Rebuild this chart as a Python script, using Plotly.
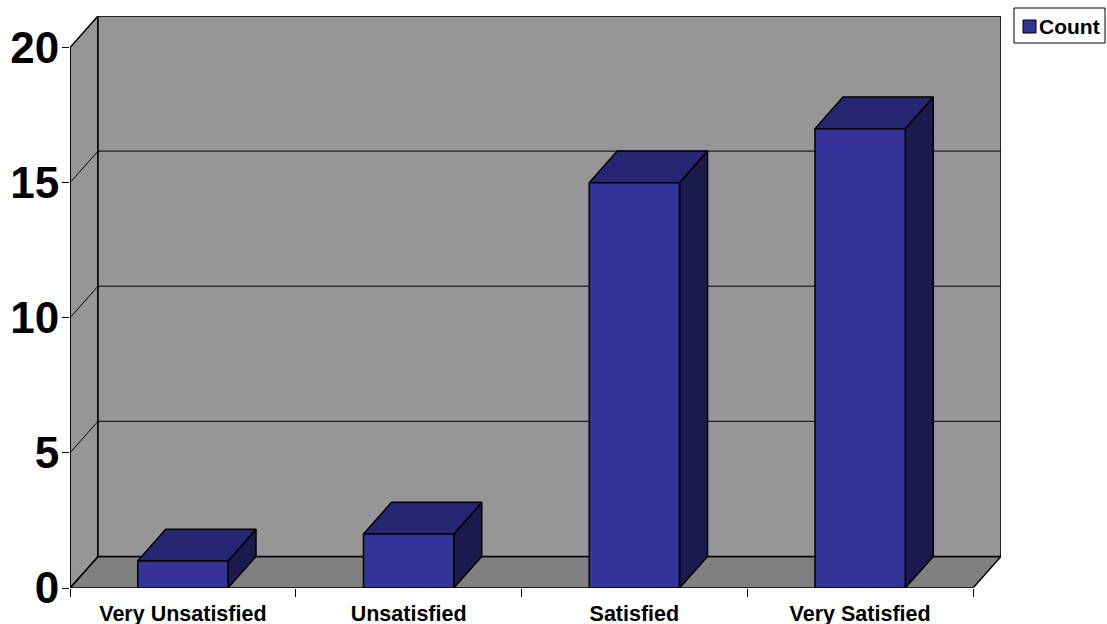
import plotly.graph_objects as go

# Survey results
categories = ["Very Unsatisfied", "Unsatisfied", "Satisfied", "Very Satisfied"]
counts = [1, 2, 15, 17]
y_ticks = [0, 5, 10, 15, 20]
series_name = "Count"

# 3D look: depth offset of the back plane, in axis units
DEPTH_X = 0.124
DEPTH_Y = 1.17
HALF_W = 0.2
Y_MAX = 20

FRONT = "#333399"
TOP = "#262673"
SIDE = "#1a1a4d"
WALL = "#969696"
FLOOR = "#808080"
FONT = "Liberation Sans, Arial, sans-serif"

n = len(categories)
x0, x1 = -0.5, n - 0.5

fig = go.Figure()


def poly(xs, ys, fill, width=1.5):
    fig.add_trace(go.Scatter(
        x=list(xs) + [xs[0]], y=list(ys) + [ys[0]],
        mode="lines", fill="toself", fillcolor=fill,
        line=dict(color="black", width=width),
        hoverinfo="skip", showlegend=False,
    ))


def seg(xs, ys, width=1):
    fig.add_trace(go.Scatter(
        x=xs, y=ys, mode="lines", line=dict(color="black", width=width),
        hoverinfo="skip", showlegend=False,
    ))


# floor, side wall, back wall
poly([x0, x1, x1 + DEPTH_X, x0 + DEPTH_X], [0, 0, DEPTH_Y, DEPTH_Y], FLOOR)
poly([x0, x0, x0 + DEPTH_X, x0 + DEPTH_X], [0, Y_MAX, Y_MAX + DEPTH_Y, DEPTH_Y], WALL)
poly([x0 + DEPTH_X, x1 + DEPTH_X, x1 + DEPTH_X, x0 + DEPTH_X],
     [DEPTH_Y, DEPTH_Y, Y_MAX + DEPTH_Y, Y_MAX + DEPTH_Y], WALL)

# gridlines on the walls
for v in y_ticks[1:-1]:
    seg([x0, x0 + DEPTH_X, x1 + DEPTH_X], [v, v + DEPTH_Y, v + DEPTH_Y])

# bars: side, top, front faces
for i, v in enumerate(counts):
    l, r = i - HALF_W, i + HALF_W
    poly([r, r + DEPTH_X, r + DEPTH_X, r], [0, DEPTH_Y, v + DEPTH_Y, v], SIDE)
    poly([l, r, r + DEPTH_X, l + DEPTH_X], [v, v, v + DEPTH_Y, v + DEPTH_Y], TOP)
    poly([l, r, r, l], [0, 0, v, v], FRONT)

# front value axis line
seg([x0, x0], [0, Y_MAX], width=1.5)

W, H = 1107, 624
ML, MR, MT, MB = 70, 106, 16, 36
pw, ph = W - ML - MR, H - MT - MB


def px(x):
    return (x - ML) / pw


def py(y):
    return (H - MB - y) / ph


# legend box
fig.add_shape(type="rect", xref="paper", yref="paper",
              x0=px(1014), x1=px(1105), y0=py(43), y1=py(8),
              line=dict(color="black", width=1), fillcolor="white")
fig.add_shape(type="rect", xref="paper", yref="paper",
              x0=px(1023), x1=px(1036), y0=py(33), y1=py(20),
              line=dict(color="black", width=1), fillcolor=FRONT)
fig.add_annotation(text=series_name, xref="paper", yref="paper",
                   x=px(1037), y=py(26), xanchor="left", yanchor="middle",
                   showarrow=False,
                   font=dict(family=FONT, size=21, color="black", weight="bold"))

fig.update_layout(
    width=W, height=H,
    margin=dict(l=ML, r=MR, t=MT, b=MB),
    paper_bgcolor="white", plot_bgcolor="white",
    hovermode=False, showlegend=False,
    xaxis=dict(
        range=[x0, x1 + DEPTH_X], showgrid=False, zeroline=False, showline=False,
        automargin=False,
        tickmode="array", tickvals=list(range(n)), ticktext=categories,
        ticks="", ticklabelstandoff=10,
        tickfont=dict(family=FONT, size=21.5, color="black", weight="bold"),
        minor=dict(tickmode="array", tickvals=[i - 0.5 for i in range(n + 1)],
                   ticks="outside", ticklen=8, tickcolor="black", tickwidth=1),
    ),
    yaxis=dict(
        range=[0, Y_MAX + DEPTH_Y], showgrid=False, zeroline=False, showline=False,
        automargin=False,
        tickmode="array", tickvals=y_ticks, ticks="outside", ticklen=7,
        tickcolor="black", tickwidth=1, ticklabelstandoff=-6,
        tickfont=dict(family=FONT, size=44, color="black", weight="bold"),
    ),
)

fig.write_html("out.html")
